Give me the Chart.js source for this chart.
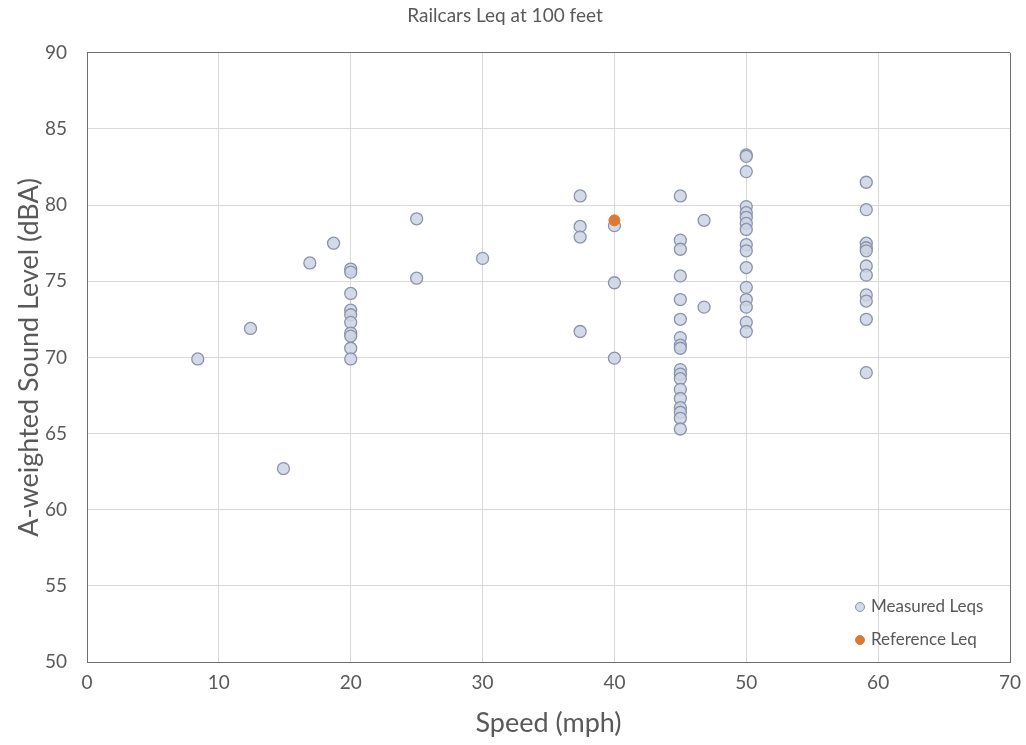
<!DOCTYPE html>
<html>
<head>
<meta charset="utf-8">
<script src="https://cdn.jsdelivr.net/npm/chart.js@4/dist/chart.umd.min.js"></script>
<style>
  html, body { margin: 0; padding: 0; background: #ffffff; }
  #wrap { width: 1026px; height: 745px; }
</style>
</head>
<body>
<div id="wrap"><canvas id="c" width="1026" height="745"></canvas></div>
<script>
// Pass-by noise measurements: train speed (mph) and Leq (dBA) at 100 ft
const measuredSpeed = [
  8.4, 12.4, 14.9, 16.9, 18.7,
  20, 20, 20, 20, 20, 20, 20, 20, 20, 20,
  25, 25,
  30,
  37.4, 37.4, 37.4, 37.4,
  40, 40, 40,
  45, 45, 45, 45, 45, 45, 45, 45, 45, 45, 45, 45, 45, 45, 45, 45, 45, 45,
  46.8, 46.8,
  50, 50, 50, 50, 50, 50, 50, 50, 50, 50, 50, 50, 50, 50, 50, 50,
  59.1, 59.1, 59.1, 59.1, 59.1, 59.1, 59.1, 59.1, 59.1, 59.1, 59.1
];
const measuredLevel = [
  69.9, 71.9, 62.7, 76.2, 77.5,
  75.8, 75.6, 74.2, 73.1, 72.8, 72.3, 71.6, 71.4, 70.6, 69.9,
  79.1, 75.2,
  76.5,
  80.6, 78.6, 77.9, 71.7,
  78.65, 74.9, 69.95,
  80.6, 77.7, 77.1, 75.35, 73.8, 72.5, 71.3, 70.8, 70.6, 69.2, 68.9, 68.6, 67.9, 67.3, 66.7, 66.4, 66.0, 65.3,
  79.0, 73.3,
  83.3, 83.2, 82.2, 79.9, 79.5, 79.2, 78.8, 78.4, 77.4, 77.0, 75.9, 74.6, 73.8, 73.3, 72.3, 71.7,
  81.5, 79.7, 77.5, 77.2, 77.0, 76.0, 75.4, 74.1, 73.7, 72.5, 69.0
];
const referenceSpeed = [40];
const referenceLevel = [79.0];

const seriesNames = ['Measured Leqs', 'Reference Leq'];
const chartTitle = 'Railcars Leq at 100 feet';
const xTitle = 'Speed (mph)';
const yTitle = 'A-weighted Sound Level (dBA)';

const FONT = 'Lato, "Open Sans", sans-serif';
const TEXT = '#595959';
const GRID = '#d9d9d9';
const FRAME = '#6f6f6f';

function toPoints(xs, ys) { return xs.map((x, i) => ({ x: x, y: ys[i] })); }

// Legend box drawn inside the lower-right corner of the plot area
const innerLegend = {
  id: 'innerLegend',
  afterDatasetsDraw(chart) {
    const ctx = chart.ctx;
    const area = chart.chartArea;
    const x0 = area.right - 150;
    const rowY = [area.bottom - 55, area.bottom - 22];
    ctx.save();
    ctx.font = '17px ' + FONT;
    ctx.textBaseline = 'middle';
    ctx.textAlign = 'left';
    chart.data.datasets.forEach((ds, i) => {
      ctx.beginPath();
      ctx.arc(x0, rowY[i], 4.5, 0, Math.PI * 2);
      ctx.fillStyle = ds.backgroundColor;
      ctx.fill();
      ctx.lineWidth = 1;
      ctx.strokeStyle = ds.borderColor;
      ctx.stroke();
      ctx.fillStyle = TEXT;
      ctx.fillText(ds.label, x0 + 11, rowY[i]);
    });
    ctx.restore();
  }
};

new Chart(document.getElementById('c'), {
  type: 'scatter',
  data: {
    datasets: [
      {
        label: seriesNames[0],
        data: toPoints(measuredSpeed, measuredLevel),
        backgroundColor: 'rgba(205,212,227,0.85)',
        borderColor: '#8a93ab',
        borderWidth: 1.3,
        pointRadius: 6,
        order: 1
      },
      {
        label: seriesNames[1],
        data: toPoints(referenceSpeed, referenceLevel),
        backgroundColor: '#dd7a32',
        borderColor: '#dd7a32',
        borderWidth: 1,
        pointRadius: 5.5,
        order: 0
      }
    ]
  },
  options: {
    responsive: false,
    animation: false,
    layout: { padding: { left: 0, right: 16, top: 0, bottom: 0 } },
    plugins: {
      legend: { display: false },
      tooltip: { enabled: false },
      title: {
        display: true,
        text: chartTitle,
        color: TEXT,
        font: { family: FONT, size: 19, weight: 'normal' },
        padding: { top: 4, bottom: 26 }
      }
    },
    scales: {
      x: {
        type: 'linear',
        min: 0, max: 70,
        afterFit(scale) { scale.height = 83; scale.paddingRight = 0; },
        ticks: { stepSize: 10, color: TEXT, padding: 9, font: { family: FONT, size: 19 } },
        grid: {
          drawTicks: false,
          color: (c) => (c.tick && c.tick.value === 70 ? FRAME : GRID),
          lineWidth: 1
        },
        border: { color: FRAME, width: 1 },
        title: {
          display: true, text: xTitle, color: TEXT,
          font: { family: FONT, size: 27 },
          padding: { top: 0, bottom: 6 }
        }
      },
      y: {
        type: 'linear',
        min: 50, max: 90,
        afterFit(scale) { scale.width = 87; },
        ticks: { stepSize: 5, color: TEXT, padding: 20, font: { family: FONT, size: 19 } },
        grid: {
          drawTicks: false,
          color: (c) => (c.tick && c.tick.value === 90 ? FRAME : GRID),
          lineWidth: 1
        },
        border: { color: FRAME, width: 1 },
        title: {
          display: true, text: yTitle, color: TEXT,
          font: { family: FONT, size: 27 },
          padding: { top: 13, bottom: 0 }
        }
      }
    }
  },
  plugins: [innerLegend]
});
</script>
</body>
</html>
